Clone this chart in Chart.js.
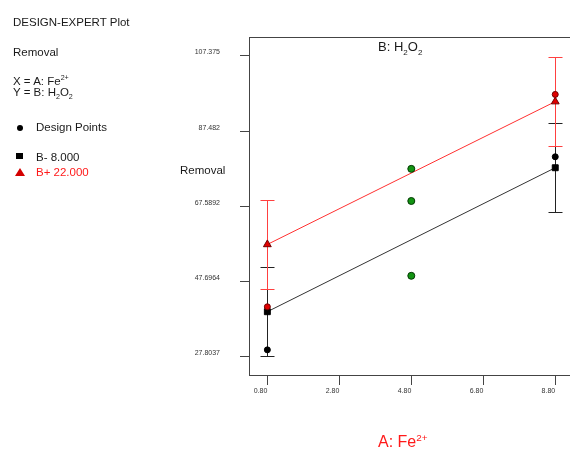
<!DOCTYPE html>
<html lang="en">
<head>
<meta charset="UTF-8">
<title>DESIGN-EXPERT Plot - Removal</title>
<script src="https://cdn.jsdelivr.net/npm/chart.js"></script>
<style>
  html, body { margin: 0; padding: 0; background: #fff; }
  body { width: 570px; height: 449px; position: relative; overflow: hidden; font-family: 'Liberation Sans', Arial, sans-serif; color: #1a1a1a; }
  canvas { position: absolute; left: 0; top: 0; }
  .t { position: absolute; white-space: nowrap; font-size: 11.5px; line-height: 1; }
  .t sup, .t sub { font-size: 62%; line-height: 0; }
  .red { color: #ff1a1a; }
  .mk { position: absolute; }
  .dot { width: 6px; height: 6px; border-radius: 50%; background: #000; }
  .sq { width: 7px; height: 6px; background: #000; }
  .tri { width: 0; height: 0; border-left: 5px solid transparent; border-right: 5px solid transparent; border-bottom: 8px solid #d40000; }
</style>
</head>
<body>
  <canvas id="plot" width="570" height="449"></canvas>

  <div class="t" style="left:13px; top:17px;">DESIGN-EXPERT Plot</div>
  <div class="t" style="left:13px; top:47px;">Removal</div>
  <div class="t" style="left:13px; top:76px;">X = A: Fe<sup>2+</sup></div>
  <div class="t" style="left:13px; top:87px;">Y = B: H<sub>2</sub>O<sub>2</sub></div>

  <div class="mk dot" style="left:17px; top:125px;"></div>
  <div class="t" style="left:36px; top:122px;">Design Points</div>
  <div class="mk sq" style="left:16px; top:153px;"></div>
  <div class="t" style="left:36px; top:152px;">B- 8.000</div>
  <div class="mk tri" style="left:15px; top:168px;"></div>
  <div class="t red" style="left:36px; top:166.5px;">B+ 22.000</div>

  <div class="t" style="left:180px; top:165px;">Removal</div>
  <div class="t" style="left:378px; top:40px; font-size:13px;">B: H<sub>2</sub>O<sub>2</sub></div>
  <div class="t red" style="left:378px; top:434px; font-size:16px;">A: Fe<sup>2+</sup></div>

<script>
// axis ticks
const xTicks = [0.8, 2.8, 4.8, 6.8, 8.8];
const xTickLabels = ['0.80', '2.80', '4.80', '6.80', '8.80'];
const yTicks = [27.8037, 47.6964, 67.5892, 87.482, 107.375];
const yTickLabels = ['27.8037', '47.6964', '67.5892', '87.482', '107.375'];

// predicted lines (B- 8.000 and B+ 22.000) with LSD half widths
const fePoints = [0.8, 8.8];
const predLow = [39.7, 77.8];
const predHigh = [57.5, 95.3];
const lsdHalf = [11.8, 11.8];

// design points
const designLowX = [0.8, 8.8];
const designLowY = [29.6, 80.7];
const designHighX = [0.8, 8.8];
const designHighY = [41.0, 97.2];
const centerX = [4.8, 4.8, 4.8];
const centerY = [77.5, 69.0, 49.2];

const pts = (xs, ys) => xs.map((v, i) => ({ x: v, y: ys[i] }));

const errorBars = {
  id: 'errorBars',
  beforeDatasetsDraw(chart) {
    const { ctx, scales: { x, y } } = chart;
    const groups = [
      { mean: predLow, color: '#222' },
      { mean: predHigh, color: '#ff4040' }
    ];
    ctx.save();
    ctx.lineWidth = 1;
    groups.forEach(g => {
      ctx.strokeStyle = g.color;
      fePoints.forEach((fe, i) => {
        const px = Math.round(x.getPixelForValue(fe)) + 0.5;
        const top = Math.round(y.getPixelForValue(g.mean[i] + lsdHalf[i])) + 0.5;
        const bot = Math.round(y.getPixelForValue(g.mean[i] - lsdHalf[i])) + 0.5;
        ctx.beginPath();
        ctx.moveTo(px, top); ctx.lineTo(px, bot);
        ctx.moveTo(px - 7, top); ctx.lineTo(px + 7, top);
        ctx.moveTo(px - 7, bot); ctx.lineTo(px + 7, bot);
        ctx.stroke();
      });
    });
    ctx.restore();
  }
};

const topBorder = {
  id: 'topBorder',
  afterDraw(chart) {
    const { ctx, chartArea: a } = chart;
    ctx.save();
    ctx.strokeStyle = '#444';
    ctx.lineWidth = 1;
    ctx.beginPath();
    ctx.moveTo(a.left, Math.round(a.top) + 0.5);
    ctx.lineTo(a.right, Math.round(a.top) + 0.5);
    ctx.stroke();
    ctx.restore();
  }
};

new Chart(document.getElementById('plot'), {
  type: 'scatter',
  data: {
    datasets: [
      { data: pts(designHighX, designHighY), pointStyle: 'circle', pointRadius: 3, backgroundColor: '#e00000', borderColor: '#700000', borderWidth: 1 },
      { data: pts(designLowX, designLowY), pointStyle: 'circle', pointRadius: 3, backgroundColor: '#000', borderColor: '#000', borderWidth: 1 },
      { data: pts(centerX, centerY), pointStyle: 'circle', pointRadius: 3.5, backgroundColor: '#129412', borderColor: '#033803', borderWidth: 1 },
      { data: pts(fePoints, predHigh), pointStyle: 'triangle', pointRadius: 4.5, backgroundColor: '#e00000', borderColor: '#700000', borderWidth: 1 },
      { data: pts(fePoints, predLow), pointStyle: 'rect', pointRadius: 4.2, backgroundColor: '#000', borderColor: '#000', borderWidth: 1 },
      { data: pts(fePoints, predHigh), showLine: true, pointRadius: 0, borderColor: '#ff3030', borderWidth: 1 },
      { data: pts(fePoints, predLow), showLine: true, pointRadius: 0, borderColor: '#333', borderWidth: 1 }
    ]
  },
  options: {
    responsive: false,
    animation: false,
    devicePixelRatio: 1,
    layout: { autoPadding: false, padding: { top: 37, left: 0, right: 0, bottom: 0 } },
    plugins: { legend: { display: false }, tooltip: { enabled: false } },
    scales: {
      x: {
        type: 'linear', min: 0.29, max: 9.21,
        afterBuildTicks: s => { s.ticks = xTicks.map(v => ({ value: v })); },
        afterFit: s => { s.height = 74; },
        ticks: { callback: (v, i) => xTickLabels[i], autoSkip: false, maxRotation: 0, align: 'end', padding: 2, color: '#333', font: { family: 'Liberation Sans', size: 7 } },
        grid: { drawOnChartArea: false, drawTicks: true, tickLength: 10, tickColor: '#444' },
        border: { color: '#444', width: 1 }
      },
      y: {
        type: 'linear', min: 22.95, max: 112.4,
        afterBuildTicks: s => { s.ticks = yTicks.map(v => ({ value: v })); },
        afterFit: s => { s.width = 249; },
        ticks: { callback: (v, i) => yTickLabels[i], autoSkip: false, align: 'end', padding: 20, color: '#333', font: { family: 'Liberation Sans', size: 7 } },
        grid: { drawOnChartArea: false, drawTicks: true, tickLength: 9, tickColor: '#444' },
        border: { color: '#444', width: 1 }
      }
    }
  },
  plugins: [errorBars, topBorder]
});
</script>
</body>
</html>
